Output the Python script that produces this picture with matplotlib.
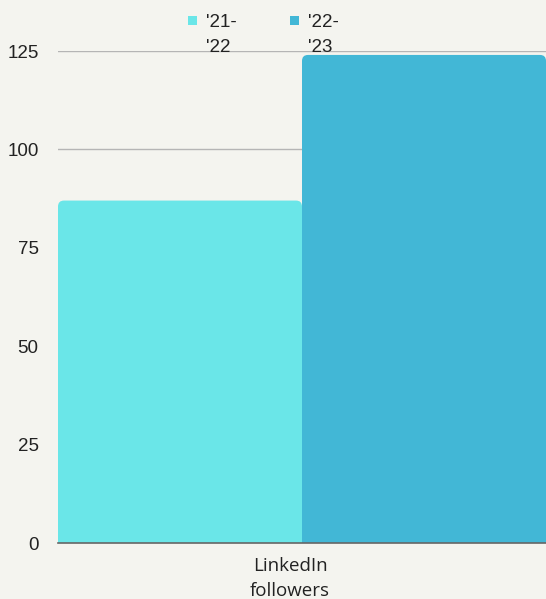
import matplotlib.pyplot as plt
from matplotlib.patches import FancyBboxPatch, Rectangle
import matplotlib.transforms as mtransforms

# data
category = "LinkedIn\nfollowers"
series = ["'21-\n'22", "'22-\n'23"]
values = [87, 124]
colors = ["#6ae6e8", "#42b7d6"]
yticks = [0, 25, 50, 75, 100, 125]

W, H = 546, 599
bg = "#f4f4ef"
fig = plt.figure(figsize=(W / 100, H / 100), dpi=100, facecolor=bg)
ax = fig.add_axes([58 / W, 56 / H, 488 / W, 492 / H], facecolor=bg)

width = 0.5
xs = [-0.25, 0.25]
bars = ax.bar(xs, values, width=width, color=colors, zorder=2)

ax.set_xlim(-0.5, 0.5)
ax.set_ylim(0, 125)

# swap plain bars for ones with rounded top corners
px_x = 488 / 1.0
px_y = 492 / 125
r = 6 / px_x
for b, c in zip(bars, colors):
    b.set_visible(False)
    x0, w, h = b.get_x(), b.get_width(), b.get_height()
    ax.add_patch(FancyBboxPatch((x0, 0), w, h,
                                boxstyle="round,pad=0,rounding_size=%f" % r,
                                mutation_aspect=px_x / px_y,
                                fc=c, ec="none", zorder=2))
    ax.add_patch(Rectangle((x0, 0), w, h / 2, fc=c, ec="none", zorder=2))

ax.set_yticks(yticks)
ax.set_xticks([0])
ax.set_xticklabels([category], fontsize=13.5, family="Open Sans",
                   color="#222222", linespacing=1.5)
ax.tick_params(axis="y", length=0, pad=14, labelsize=13.5, labelcolor="#222222")
ax.tick_params(axis="x", length=0, pad=10)
for lbl in ax.get_yticklabels():
    lbl.set_family("Liberation Sans")
shift = mtransforms.ScaledTranslation(-12 / 100, 0, fig.dpi_scale_trans)
for lbl in ax.get_xticklabels():
    lbl.set_transform(lbl.get_transform() + shift)
ax.yaxis.grid(True, color="#b5b5b5", linewidth=1, zorder=0)
ax.set_axisbelow(True)
for s in ["top", "right", "left"]:
    ax.spines[s].set_visible(False)
ax.spines["bottom"].set_color("#666666")
ax.spines["bottom"].set_linewidth(1.2)
ax.spines["bottom"].set_zorder(3)

# legend: square swatch beside the first line of each wrapped label
leg_x = [188, 290]
for x, label, c in zip(leg_x, series, colors):
    fig.add_artist(Rectangle((x / W, 1 - 25 / H), 9 / W, 9 / H,
                             transform=fig.transFigure, fc=c, ec="none"))
    fig.text((x + 18) / W, 1 - 14 / H, label, ha="left", va="top",
             fontsize=13.5, family="Liberation Sans", color="#222222",
             linespacing=1.65)

fig.savefig("out.png", dpi=100, facecolor=bg)
